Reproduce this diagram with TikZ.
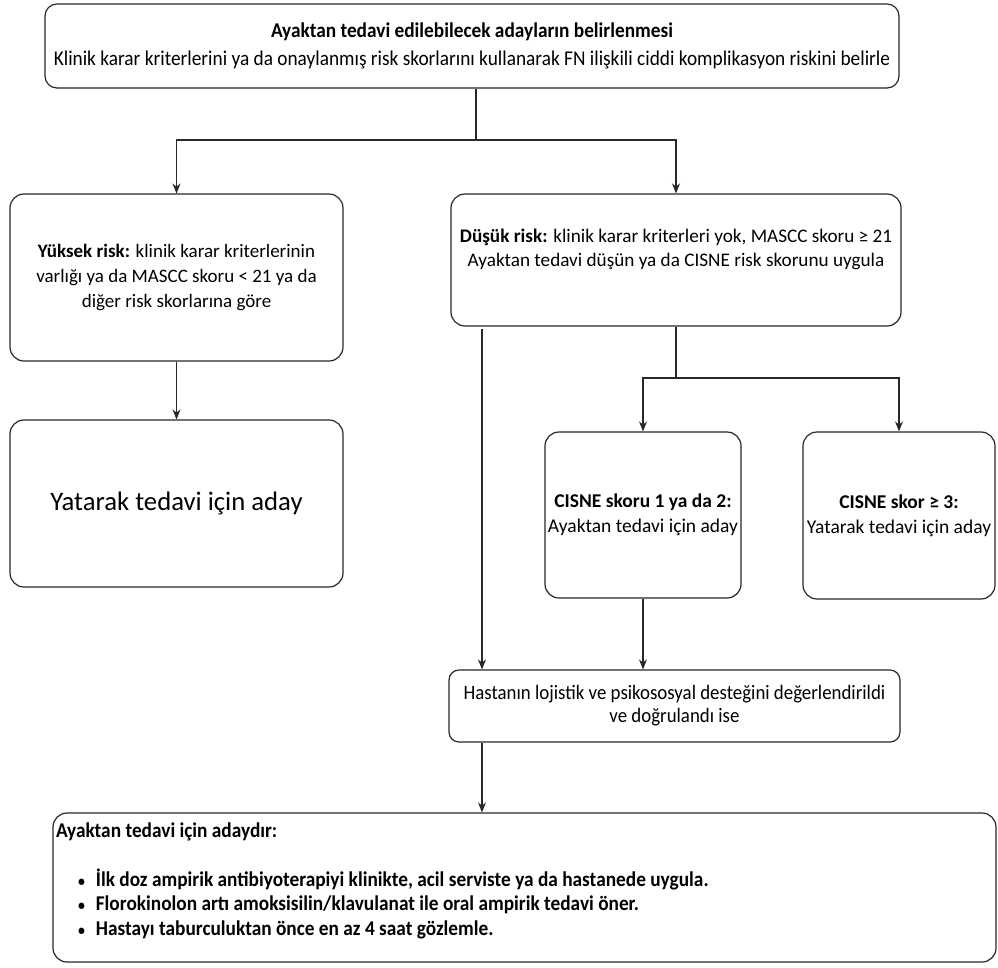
\documentclass[tikz,border=0pt]{standalone}
\usepackage{fontspec}
\setmainfont{Carlito}
\newfontfamily\narrowfont[FakeStretch=0.92]{Carlito}
\usepackage{tikz}
\usetikzlibrary{arrows.meta, positioning, calc}
\definecolor{boxline}{RGB}{40,40,40}
\tikzset{
  box/.style={
    rectangle, rounded corners=14pt, draw=boxline, line width=1.2pt,
    align=center, inner sep=3pt, text=black
  },
  bodytext/.style={font=\fontsize{19}{25}\selectfont},
  narrowtext/.style={font=\narrowfont\fontsize{21}{28}\selectfont},
  arrow/.style={-{Stealth[length=10pt,width=8pt]}, line width=1.1pt, color=boxline},
  plainline/.style={line width=1.1pt, color=boxline}
}
\newcommand{\smallbullet}{\hspace*{22pt}{\fontsize{15}{15}\selectfont\textbullet}\hspace{11pt}}

\begin{document}
\begin{tikzpicture}[x=1pt, y=-1pt]
  \useasboundingbox (0,0) rectangle (998,967);

  \node[box, narrowtext, minimum width=854pt, minimum height=84pt, rounded corners=12pt] (top) at (472,46)
    {\textbf{Ayaktan tedavi edilebilecek adayların belirlenmesi}\\
     Klinik karar kriterlerini ya da onaylanmış risk skorlarını kullanarak FN ilişkili ciddi komplikasyon riskini belirle};
  \node[box, bodytext, minimum width=333pt, minimum height=167pt] (high) at (176.5,277.5)
    {\textbf{Yüksek risk:} klinik karar kriterlerinin\\ varlığı ya da MASCC skoru < 21 ya da\\ diğer risk skorlarına göre};
  \node[box, minimum width=333pt, minimum height=167pt, font=\fontsize{26.7}{32}\selectfont] (inpat) at (176.5,503.5)
    {Yatarak tedavi için aday};
  \node[box, minimum width=450pt, minimum height=132pt, font=\fontsize{19.2}{24}\selectfont] (low) at (676,260)
    {\textbf{Düşük risk:} klinik karar kriterleri yok, MASCC skoru ≥ 21\\
     Ayaktan tedavi düşün ya da CISNE risk skorunu uygula\\ \mbox{}};
  \node[box, minimum width=194pt, minimum height=166pt, font=\fontsize{19.5}{25}\selectfont] (cisne1) at (643,515)
    {\textbf{CISNE skoru 1 ya da 2:}\\ Ayaktan tedavi için aday};
  \node[box, minimum width=192pt, minimum height=167pt, font=\fontsize{19.5}{25}\selectfont] (cisne3) at (899,515.5)
    {\textbf{CISNE skor ≥ 3:}\\ Yatarak tedavi için aday};
  \node[box, minimum width=451pt, minimum height=72pt, rounded corners=10pt,
        font=\narrowfont\fontsize{20.5}{23}\selectfont] (support) at (674.5,706)
    {Hastanın lojistik ve psikososyal desteğini değerlendirildi\\ ve doğrulandı ise};
  \node[box, minimum width=943pt, minimum height=149pt, inner sep=0pt, align=left,
        font=\narrowfont\bfseries\fontsize{21}{24.5}\selectfont] (final) at (524.5,887.5)
    {\begin{minipage}[c][143pt][t]{937pt}
       \vspace{7pt}Ayaktan tedavi için adaydır:\\[24pt]
       \smallbullet İlk doz ampirik antibiyoterapiyi klinikte, acil serviste ya da hastanede uygula.\\
       \smallbullet Florokinolon artı amoksisilin/klavulanat ile oral ampirik tedavi öner.\\
       \smallbullet Hastayı taburculuktan önce en az 4 saat gözlemle.
     \end{minipage}};

  \coordinate (fork1) at (476,140);
  \coordinate (fork2) at (676,378);
  \coordinate (bypass) at (482,329);

  \draw[plainline] (top.south -| fork1) -- (fork1);
  \draw[arrow] (fork1) -| (high.north);
  \draw[arrow] (fork1) -| (low.north);
  \draw[arrow] (high.south) -- (inpat.north);
  \draw[plainline] (low.south) -- (fork2);
  \draw[arrow] (fork2) -| (cisne1.north);
  \draw[arrow] (fork2) -| (cisne3.north);
  \draw[arrow] (bypass) -- (bypass |- support.north);
  \draw[arrow] (cisne1.south) -- (cisne1.south |- support.north);
  \draw[arrow] (support.south -| bypass) -- (bypass |- final.north);
\end{tikzpicture}
\end{document}
